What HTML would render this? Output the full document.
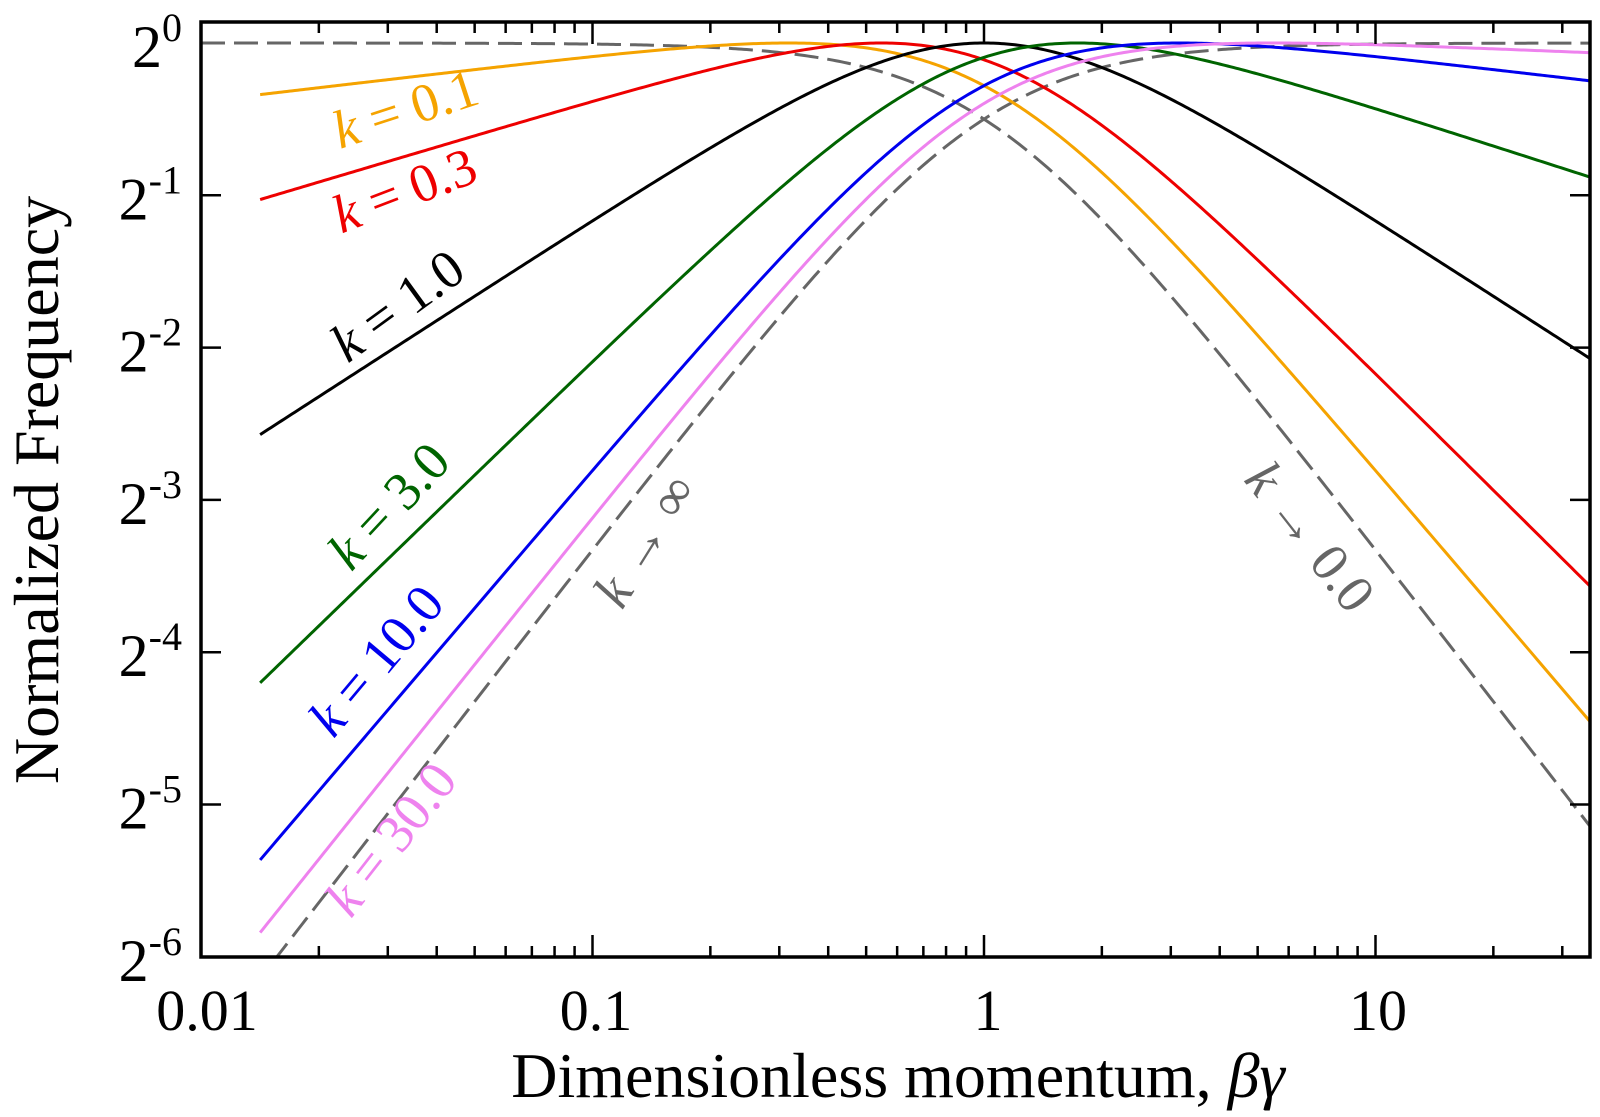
<!DOCTYPE html>
<html><head><meta charset="utf-8"><style>
html,body{margin:0;padding:0;background:#fff;}
svg{display:block;font-family:'Liberation Serif','Times New Roman',Times,serif;}
svg text{font-family:'Liberation Serif','Times New Roman',Times,serif;}
</style></head><body>
<svg id="s" width="1600" height="1117" viewBox="0 0 1600 1117" xmlns="http://www.w3.org/2000/svg" font-family="Liberation Serif, Times New Roman, serif">
<defs><clipPath id="c"><rect x="201" y="22" width="1389" height="935"/></clipPath></defs>
<g id="curves" clip-path="url(#c)" fill="none" stroke-width="3"></g>
<g id="ticks" stroke="#000" stroke-width="2.5"></g>
<rect x="201" y="22" width="1389" height="935" fill="none" stroke="#000" stroke-width="3.5"/>
<g font-size="58" fill="#000" text-anchor="middle">
<text x="207" y="1030">0.01</text>
<text x="596" y="1030">0.1</text>
<text x="988" y="1030">1</text>
<text x="1378" y="1030">10</text>
</g>
<g font-size="60" fill="#000" text-anchor="end" id="ylab"></g>
<text x="898" y="1097" font-size="64" text-anchor="middle">Dimensionless momentum, <tspan font-style="italic">βγ</tspan></text>
<text transform="translate(58,490) rotate(-90)" font-size="64" text-anchor="middle">Normalized Frequency</text>
<g font-size="54" text-anchor="middle">
<text transform="translate(411,126) rotate(-18)" fill="#f5a300"><tspan font-style="italic">k</tspan> = 0.1</text>
<text transform="translate(411,207) rotate(-21)" fill="#ee0000"><tspan font-style="italic">k</tspan> = 0.3</text>
<text transform="translate(408,320) rotate(-36)" fill="#000"><tspan font-style="italic">k</tspan> = 1.0</text>
<text transform="translate(402,518) rotate(-47)" fill="#006400"><tspan font-style="italic">k</tspan> = 3.0</text>
<text transform="translate(390,672) rotate(-50)" fill="#0000ee"><tspan font-style="italic">k</tspan> = 10.0</text>
<text transform="translate(405,850) rotate(-52)" fill="#ee82ee"><tspan font-style="italic">k</tspan> = 30.0</text>
<text transform="translate(660,550) rotate(-58)" fill="#666"><tspan font-style="italic">k</tspan> → ∞</text>
<text transform="translate(1296,548) rotate(52)" fill="#666"><tspan font-style="italic">k</tspan> → 0.0</text>
</g>
</svg>
<script>
(function(){
var NS="http://www.w3.org/2000/svg";
var X0=201,DEC=391.5,Y0=43,OCT=152.3;
function px(p){return X0+DEC*(Math.log10(p)+2);}
function py(f){return Y0-OCT*Math.log2(f);}
var g=document.getElementById('curves');
function add(fn,pmin,color,dash){
  var d="",n=500,pmax=36;
  for(var i=0;i<=n;i++){
    var p=pmin*Math.pow(pmax/pmin,i/n);
    var f=fn(p);
    d+=(i?"L":"M")+px(p).toFixed(2)+","+py(f).toFixed(2);
  }
  var e=document.createElementNS(NS,"path");
  e.setAttribute("d",d);e.setAttribute("stroke",color);
  if(dash){e.setAttribute("stroke-dasharray",dash);}
  g.appendChild(e);
}
function fam(k){
  var a=k/(1+k),b=1/(1+k);
  var bm=Math.sqrt(k/(1+k)),gm=Math.sqrt(1+k);
  var m=Math.pow(bm,a)*Math.pow(gm,-b);
  return function(p){var gg=Math.sqrt(1+p*p),be=p/gg;return Math.pow(be,a)*Math.pow(gg,-b)/m;};
}
var p0=0.01416;
add(function(p){return 1/Math.sqrt(1+p*p);},0.01,"#666","24,9");
add(function(p){return p/Math.sqrt(1+p*p);},0.012,"#666","24,9");
add(fam(0.1),p0,"#f5a300");
add(fam(0.3),p0,"#ee0000");
add(fam(1),p0,"#000");
add(fam(3),p0,"#006400");
add(fam(10),p0,"#0000ee");
add(fam(30),p0,"#ee82ee");
var t=document.getElementById('ticks');
function line(x1,y1,x2,y2){var l=document.createElementNS(NS,"line");l.setAttribute("x1",x1);l.setAttribute("y1",y1);l.setAttribute("x2",x2);l.setAttribute("y2",y2);t.appendChild(l);}
for(var dcd=-2;dcd<=1;dcd++){
  for(var m=1;m<=9;m++){
    var p=m*Math.pow(10,dcd);var x=px(p);
    if(x<X0-1||x>1590)continue;
    var L=(m==1)?22:11;
    line(x,957,x,957-L);line(x,22,x,22+L);
  }
}
var yl=document.getElementById('ylab');
for(var j=0;j<=6;j++){
  var y=Y0+OCT*j;
  if(j>0&&j<6){line(201,y,221,y);line(1590,y,1570,y);}
  var tx=document.createElementNS(NS,"text");
  tx.setAttribute("x",182);tx.setAttribute("y",y+24);
  var s1=document.createElementNS(NS,"tspan");s1.textContent="2";
  var s2=document.createElementNS(NS,"tspan");s2.textContent=(j==0?"0":"-"+j);
  s2.setAttribute("dy","-26");s2.setAttribute("font-size","40");
  tx.appendChild(s1);tx.appendChild(s2);yl.appendChild(tx);
}
})();
</script>
</body></html>
